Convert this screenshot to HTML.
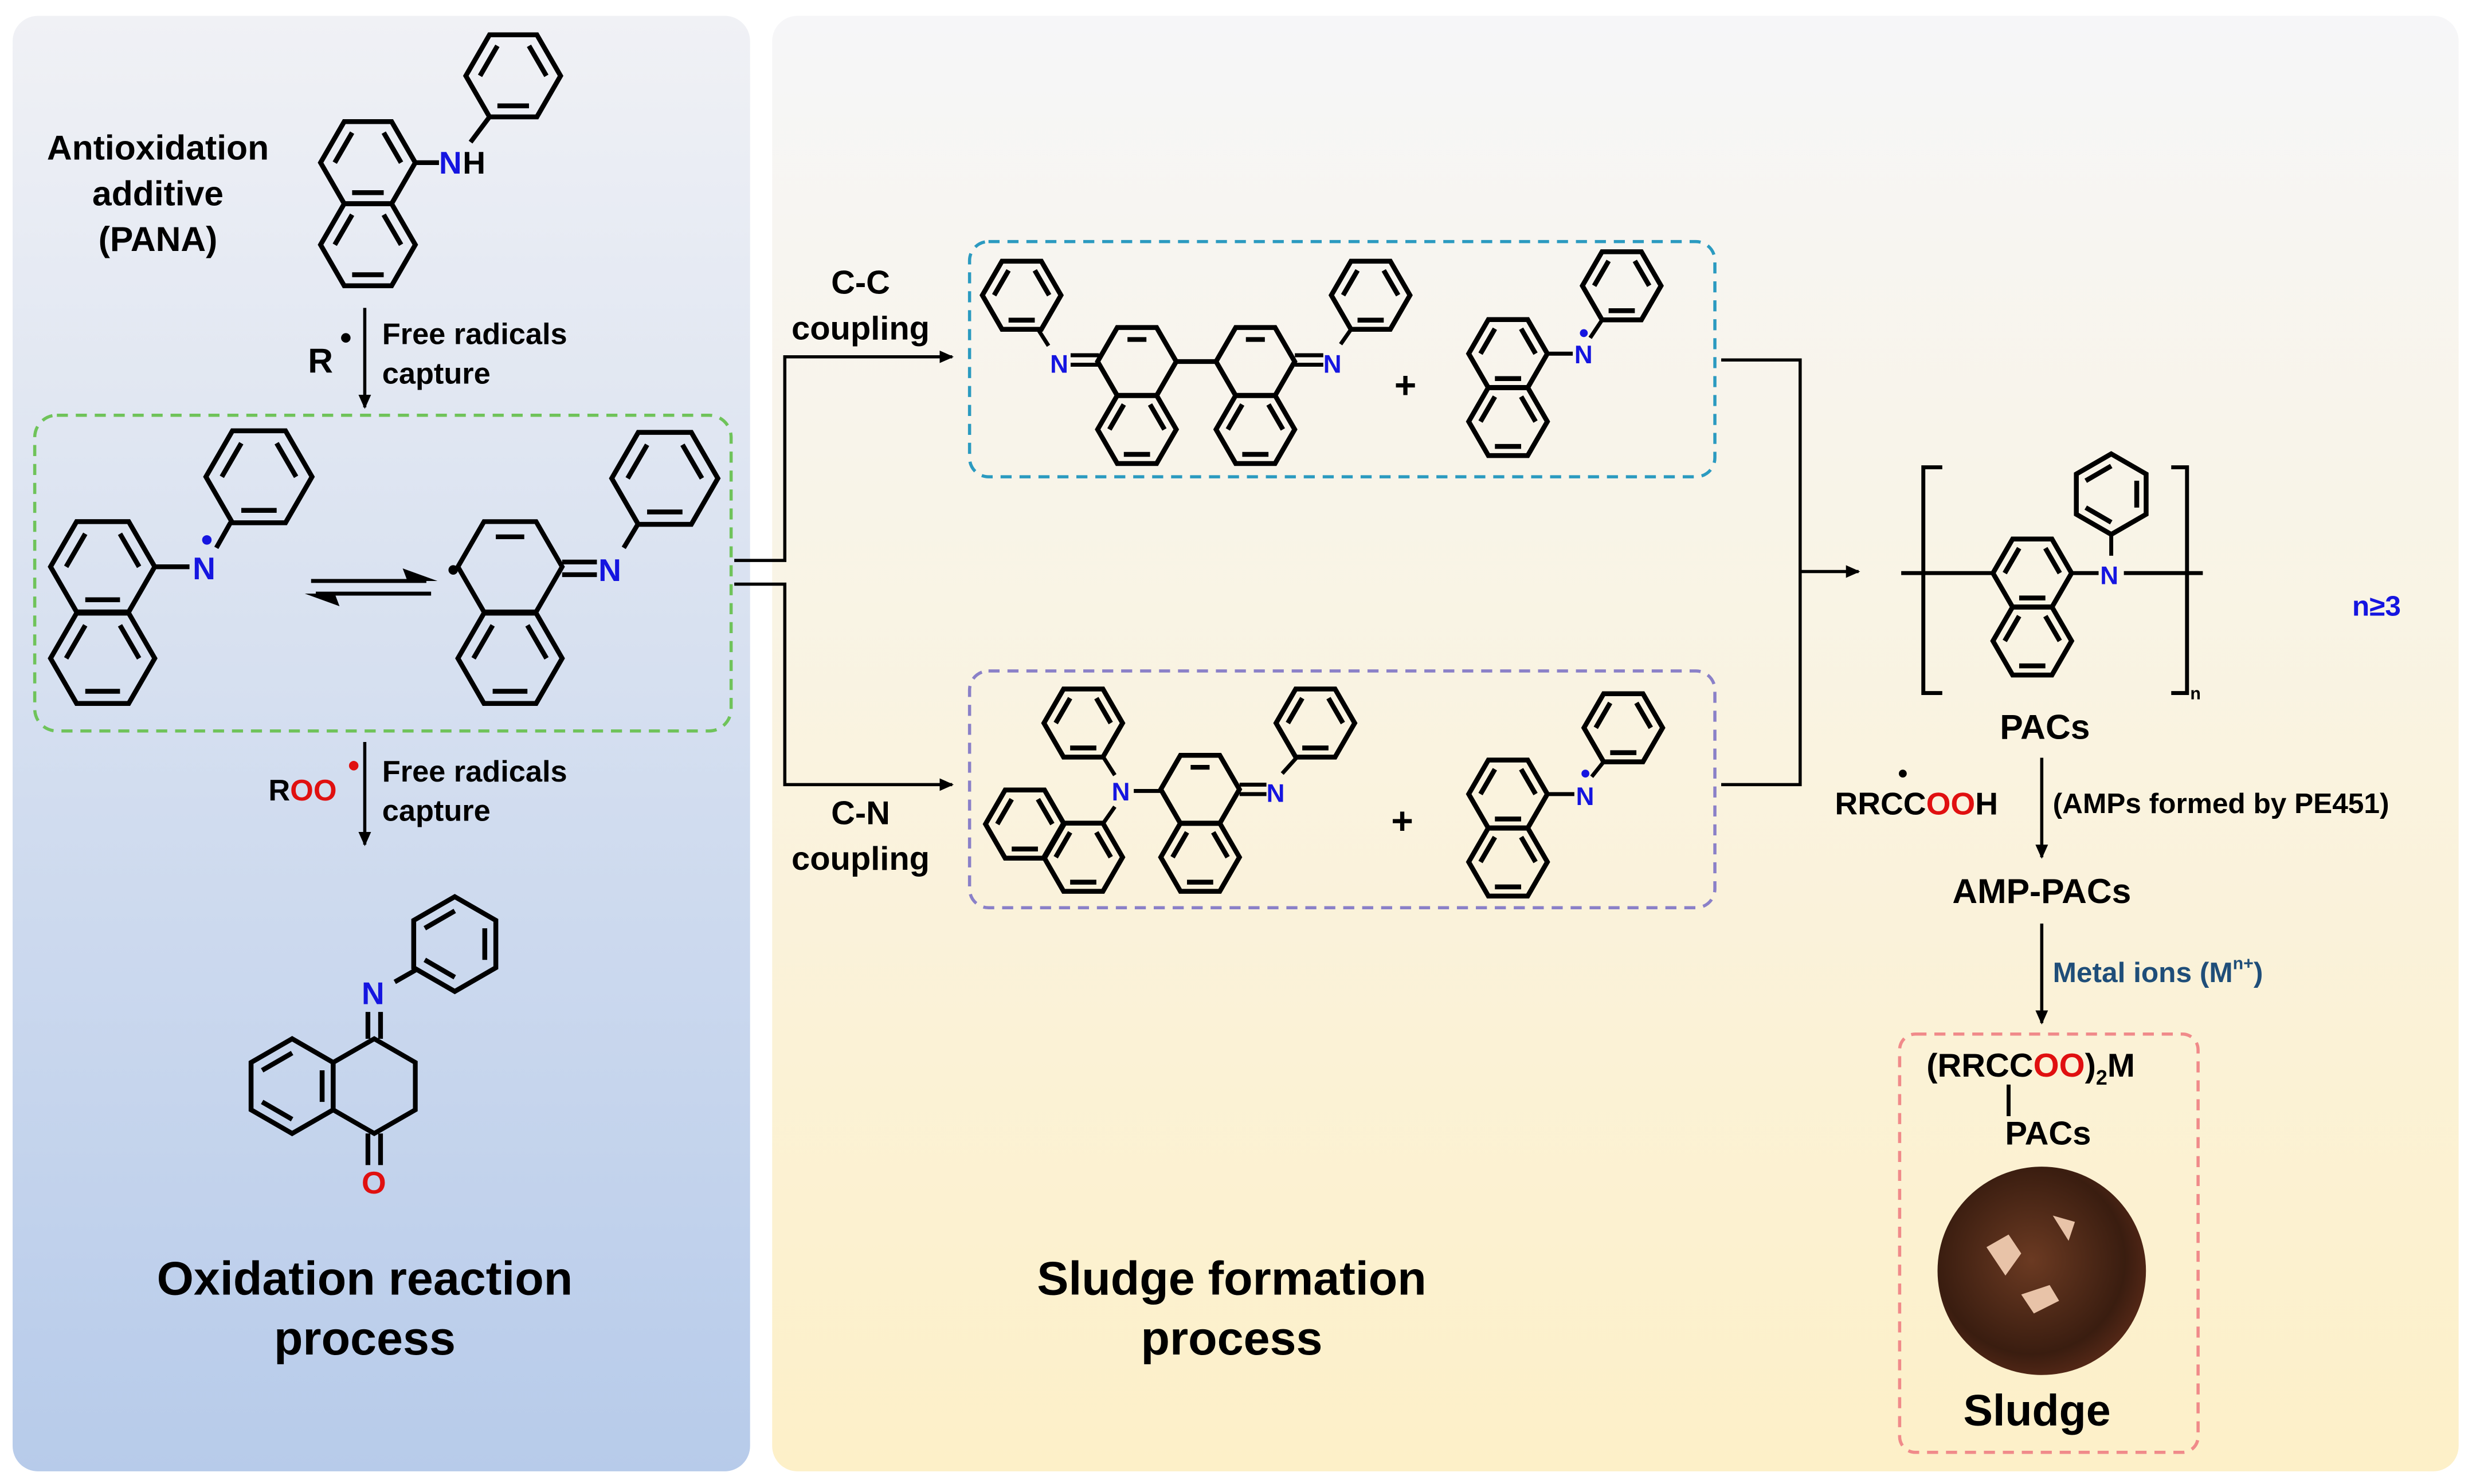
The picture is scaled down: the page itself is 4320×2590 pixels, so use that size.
<!DOCTYPE html>
<html><head><meta charset="utf-8"><style>
html,body{margin:0;padding:0;background:#fff}
svg{display:block}
text{font-family:"Liberation Sans",Arial,sans-serif;font-weight:bold}
</style></head><body>
<svg width="4320" height="2590" viewBox="0 0 1568 940" xmlns="http://www.w3.org/2000/svg">
<defs>
<linearGradient id="gl" x1="0" y1="0" x2="0" y2="1"><stop offset="0" stop-color="#f0f1f5"/><stop offset="1" stop-color="#b7cbea"/></linearGradient>
<linearGradient id="gr" x1="0" y1="0" x2="0" y2="1"><stop offset="0" stop-color="#f6f6f8"/><stop offset="1" stop-color="#fdf0c8"/></linearGradient>
<radialGradient id="gs" cx="0.45" cy="0.45" r="0.6"><stop offset="0" stop-color="#6b3a22"/><stop offset="0.75" stop-color="#3a1d10"/><stop offset="1" stop-color="#5a2a18"/></radialGradient>
<marker id="ar" markerWidth="10" markerHeight="10" refX="8" refY="4" orient="auto" markerUnits="userSpaceOnUse"><path d="M0,0 L9,4 L0,8 Z" fill="#000"/></marker>
<g id="hf"><polygon points="30,0 15,26 -15,26 -30,0 -15,-26 15,-26" fill="none" stroke="#000" stroke-width="8.5" vector-effect="non-scaling-stroke"/><path d="M21,0 L10,-19 M-10,19 L10,19 M-21,0 L-10,-19" stroke="#000" stroke-width="8.5" fill="none" vector-effect="non-scaling-stroke"/></g>
<g id="hr"><polygon points="30,0 15,26 -15,26 -30,0 -15,-26 15,-26" fill="none" stroke="#000" stroke-width="8.5" vector-effect="non-scaling-stroke"/></g>
<g id="hp"><polygon points="0,-30 26,-15 26,15 0,30 -26,15 -26,-15" fill="none" stroke="#000" stroke-width="8.5" vector-effect="non-scaling-stroke"/><path d="M19,-10 L19,10 M0,-21 L-19,-10 M0,21 L-19,10" stroke="#000" stroke-width="8.5" fill="none" vector-effect="non-scaling-stroke"/></g>
</defs>
<rect x="8" y="10" width="467" height="922" rx="16" fill="url(#gl)"/>
<rect x="489" y="10" width="1068" height="922" rx="16" fill="url(#gr)"/>

<!-- PANA -->
<text x="100" y="101" font-size="22" text-anchor="middle">Antioxidation</text>
<text x="100" y="130" font-size="22" text-anchor="middle">additive</text>
<text x="100" y="159" font-size="22" text-anchor="middle">(PANA)</text>
<use href="#hf" transform="translate(233,103)"/><use href="#hf" transform="translate(233,155)"/>
<use href="#hf" transform="translate(325,48)"/>
<line x1="263" y1="103" x2="278" y2="103" stroke="#000" stroke-width="3"/>
<line x1="298" y1="90" x2="310" y2="74" stroke="#000" stroke-width="3"/>
<text x="278" y="110" font-size="20" fill="#1515e0">N</text><text x="293" y="110" font-size="20" fill="#000">H</text>

<line x1="231" y1="195" x2="231" y2="258" stroke="#000" stroke-width="2" marker-end="url(#ar)"/>
<text x="195" y="236" font-size="22">R</text><circle cx="219" cy="214" r="3"/>
<text x="242" y="218" font-size="19">Free radicals</text>
<text x="242" y="243" font-size="19">capture</text>

<rect x="22" y="263" width="441" height="200" rx="14" fill="none" stroke="#6fc35a" stroke-width="2" stroke-dasharray="7,5"/>
<use href="#hf" transform="translate(65,359) scale(1.1)"/><use href="#hf" transform="translate(65,417) scale(1.1)"/>
<line x1="98" y1="359" x2="120" y2="359" stroke="#000" stroke-width="3"/>
<text x="122" y="367" font-size="20" fill="#1515e0">N</text><circle cx="131" cy="342" r="3" fill="#1515e0"/>
<line x1="137" y1="347" x2="146" y2="331" stroke="#000" stroke-width="3"/>
<use href="#hf" transform="translate(164,302) scale(1.12)"/>
<line x1="197" y1="368" x2="270" y2="368" stroke="#000" stroke-width="2.5"/><path d="M277,368 L255,360 L258,368 Z" fill="#000"/>
<line x1="200" y1="376" x2="273" y2="376" stroke="#000" stroke-width="2.5"/><path d="M193,376 L215,384 L212,376 Z" fill="#000"/>
<use href="#hf" transform="translate(323,417) scale(1.1)"/>
<polygon points="356,359 339.5,330.4 306.5,330.4 290,359 306.5,387.6 339.5,387.6" fill="none" stroke="#000" stroke-width="3"/>
<line x1="314" y1="340" x2="332" y2="340" stroke="#000" stroke-width="3"/>
<circle cx="287" cy="361" r="3"/>
<line x1="356" y1="356" x2="378" y2="356" stroke="#000" stroke-width="3"/><line x1="356" y1="364" x2="378" y2="364" stroke="#000" stroke-width="3"/>
<text x="379" y="368" font-size="20" fill="#1515e0">N</text>
<line x1="395" y1="347" x2="404" y2="332" stroke="#000" stroke-width="3"/>
<use href="#hf" transform="translate(421,303) scale(1.12)"/>

<line x1="231" y1="470" x2="231" y2="535" stroke="#000" stroke-width="2" marker-end="url(#ar)"/>
<text x="170" y="507" font-size="19">R<tspan fill="#e01010">OO</tspan></text><circle cx="224" cy="485" r="3" fill="#e01010"/>
<text x="242" y="495" font-size="19">Free radicals</text>
<text x="242" y="520" font-size="19">capture</text>

<use href="#hp" transform="translate(288,598)"/>
<text x="229" y="636" font-size="20" fill="#1515e0">N</text>
<line x1="250" y1="622" x2="264" y2="614" stroke="#000" stroke-width="3"/>
<line x1="233" y1="641" x2="233" y2="658" stroke="#000" stroke-width="3"/><line x1="241" y1="641" x2="241" y2="658" stroke="#000" stroke-width="3"/>
<use href="#hp" transform="translate(185,688)"/>
<polygon points="237,658 263,673 263,703 237,718 211,703 211,673" fill="none" stroke="#000" stroke-width="3"/>
<line x1="233" y1="718" x2="233" y2="738" stroke="#000" stroke-width="3"/><line x1="241" y1="718" x2="241" y2="738" stroke="#000" stroke-width="3"/>
<text x="229" y="756" font-size="20" fill="#e01010">O</text>

<text x="231" y="820" font-size="30" text-anchor="middle">Oxidation reaction</text>
<text x="231" y="858" font-size="30" text-anchor="middle">process</text>

<!-- connectors -->
<path d="M465,355 H497 V226 H603" fill="none" stroke="#000" stroke-width="2" marker-end="url(#ar)"/>
<path d="M465,370 H497 V497 H603" fill="none" stroke="#000" stroke-width="2" marker-end="url(#ar)"/>
<text x="545" y="186" font-size="21" text-anchor="middle">C-C</text>
<text x="545" y="215" font-size="21" text-anchor="middle">coupling</text>
<text x="545" y="522" font-size="21" text-anchor="middle">C-N</text>
<text x="545" y="551" font-size="21" text-anchor="middle">coupling</text>

<!-- C-C box -->
<rect x="614" y="153" width="472" height="149" rx="12" fill="none" stroke="#2b9ac0" stroke-width="2" stroke-dasharray="7,5"/>
<use href="#hf" transform="translate(647,187) scale(0.83)"/>
<line x1="657" y1="208" x2="664" y2="219" stroke="#000" stroke-width="2.5"/>
<text x="665" y="236" font-size="16" fill="#1515e0">N</text>
<line x1="678" y1="225" x2="696" y2="225" stroke="#000" stroke-width="2.5"/><line x1="678" y1="231" x2="696" y2="231" stroke="#000" stroke-width="2.5"/>
<use href="#hr" transform="translate(720,229) scale(0.83)"/><line x1="714" y1="215" x2="726" y2="215" stroke="#000" stroke-width="3"/>
<use href="#hf" transform="translate(720,272) scale(0.83)"/>
<line x1="745" y1="229" x2="770" y2="229" stroke="#000" stroke-width="3"/>
<use href="#hr" transform="translate(795,229) scale(0.83)"/><line x1="789" y1="215" x2="801" y2="215" stroke="#000" stroke-width="3"/>
<use href="#hf" transform="translate(795,272) scale(0.83)"/>
<line x1="820" y1="225" x2="838" y2="225" stroke="#000" stroke-width="2.5"/><line x1="820" y1="231" x2="838" y2="231" stroke="#000" stroke-width="2.5"/>
<text x="838" y="236" font-size="16" fill="#1515e0">N</text>
<line x1="849" y1="218" x2="856" y2="208" stroke="#000" stroke-width="2.5"/>
<use href="#hf" transform="translate(868,187) scale(0.83)"/>
<text x="890" y="252" font-size="24" text-anchor="middle" font-weight="normal">+</text>
<use href="#hf" transform="translate(955,224) scale(0.83)"/><use href="#hf" transform="translate(955,267) scale(0.83)"/>
<line x1="980" y1="224" x2="996" y2="224" stroke="#000" stroke-width="2.5"/>
<text x="997" y="230" font-size="16" fill="#1515e0">N</text><circle cx="1003" cy="211" r="2.5" fill="#1515e0"/>
<line x1="1007" y1="214" x2="1015" y2="202" stroke="#000" stroke-width="2.5"/>
<use href="#hf" transform="translate(1027,181) scale(0.83)"/>

<!-- C-N box -->
<rect x="614" y="425" width="472" height="150" rx="12" fill="none" stroke="#8a80c8" stroke-width="2" stroke-dasharray="7,5"/>
<use href="#hf" transform="translate(686,458) scale(0.83)"/>
<line x1="699" y1="480" x2="706" y2="491" stroke="#000" stroke-width="2.5"/>
<text x="704" y="507" font-size="16" fill="#1515e0">N</text>
<line x1="706" y1="511" x2="699" y2="521" stroke="#000" stroke-width="2.5"/>
<use href="#hf" transform="translate(649,522) scale(0.83)"/><use href="#hf" transform="translate(686,543) scale(0.83)"/>
<line x1="718" y1="501" x2="735" y2="501" stroke="#000" stroke-width="2.5"/>
<use href="#hr" transform="translate(760,500) scale(0.83)"/><line x1="754" y1="486" x2="766" y2="486" stroke="#000" stroke-width="3"/>
<use href="#hf" transform="translate(760,543) scale(0.83)"/>
<line x1="785" y1="497" x2="802" y2="497" stroke="#000" stroke-width="2.5"/><line x1="785" y1="503" x2="802" y2="503" stroke="#000" stroke-width="2.5"/>
<text x="802" y="508" font-size="16" fill="#1515e0">N</text>
<line x1="812" y1="490" x2="821" y2="480" stroke="#000" stroke-width="2.5"/>
<use href="#hf" transform="translate(833,458) scale(0.83)"/>
<text x="888" y="528" font-size="24" text-anchor="middle" font-weight="normal">+</text>
<use href="#hf" transform="translate(955,503) scale(0.83)"/><use href="#hf" transform="translate(955,546) scale(0.83)"/>
<line x1="980" y1="503" x2="997" y2="503" stroke="#000" stroke-width="2.5"/>
<text x="998" y="510" font-size="16" fill="#1515e0">N</text><circle cx="1004" cy="490" r="2.5" fill="#1515e0"/>
<line x1="1008" y1="492" x2="1016" y2="482" stroke="#000" stroke-width="2.5"/>
<use href="#hf" transform="translate(1028,461) scale(0.83)"/>

<path d="M1090,228 H1140 V497 H1090" fill="none" stroke="#000" stroke-width="2"/>
<line x1="1140" y1="362" x2="1177" y2="362" stroke="#000" stroke-width="2" marker-end="url(#ar)"/>

<!-- polymer -->
<path d="M1230,296 H1218 V439 H1230 M1375,296 H1385 V439 H1375" fill="none" stroke="#000" stroke-width="2.5"/>
<line x1="1204" y1="363" x2="1262" y2="363" stroke="#000" stroke-width="2.5"/>
<use href="#hf" transform="translate(1287,363) scale(0.83)"/><use href="#hf" transform="translate(1287,406) scale(0.83)"/>
<line x1="1312" y1="363" x2="1329" y2="363" stroke="#000" stroke-width="2.5"/>
<text x="1330" y="370" font-size="16" fill="#1515e0">N</text>
<line x1="1345" y1="363" x2="1395" y2="363" stroke="#000" stroke-width="2.5"/>
<line x1="1337" y1="338" x2="1337" y2="352" stroke="#000" stroke-width="2.5"/>
<use href="#hp" transform="translate(1337,313) scale(0.85)"/>
<text x="1387" y="443" font-size="11">n</text>
<text x="1505" y="390" font-size="18" fill="#1515e0" text-anchor="middle">n≥3</text>
<text x="1295" y="468" font-size="22" text-anchor="middle">PACs</text>
<line x1="1293" y1="480" x2="1293" y2="543" stroke="#000" stroke-width="2" marker-end="url(#ar)"/>
<text x="1162" y="516" font-size="20">RRCC<tspan fill="#e01010">OO</tspan>H</text><circle cx="1205" cy="490" r="2.5"/>
<text x="1300" y="515" font-size="18">(AMPs formed by PE451)</text>
<text x="1293" y="572" font-size="22" text-anchor="middle">AMP-PACs</text>
<line x1="1293" y1="585" x2="1293" y2="648" stroke="#000" stroke-width="2" marker-end="url(#ar)"/>
<text x="1300" y="622" font-size="18" fill="#1f4e79">Metal ions (M<tspan font-size="11" dy="-8">n+</tspan><tspan dy="8">)</tspan></text>

<rect x="1203" y="655" width="189" height="265" rx="10" fill="none" stroke="#f08a8a" stroke-width="2" stroke-dasharray="7,5"/>
<text x="1220" y="682" font-size="21">(RRCC<tspan fill="#e01010">OO</tspan>)<tspan font-size="13" dy="5">2</tspan><tspan dy="-5">M</tspan></text>
<line x1="1272" y1="687" x2="1272" y2="707" stroke="#000" stroke-width="2.5"/>
<text x="1297" y="725" font-size="21" text-anchor="middle">PACs</text>
<circle cx="1293" cy="805" r="66" fill="url(#gs)"/>
<path d="M1258,790 l14,-8 l8,12 l-10,14 z M1280,820 l18,-6 l6,10 l-16,8 z M1300,770 l14,4 l-4,12 z" fill="#e8c3a8"/>
<text x="1290" y="903" font-size="28" text-anchor="middle">Sludge</text>

<text x="780" y="820" font-size="30" text-anchor="middle">Sludge formation</text>
<text x="780" y="858" font-size="30" text-anchor="middle">process</text>
</svg>
</body></html>
